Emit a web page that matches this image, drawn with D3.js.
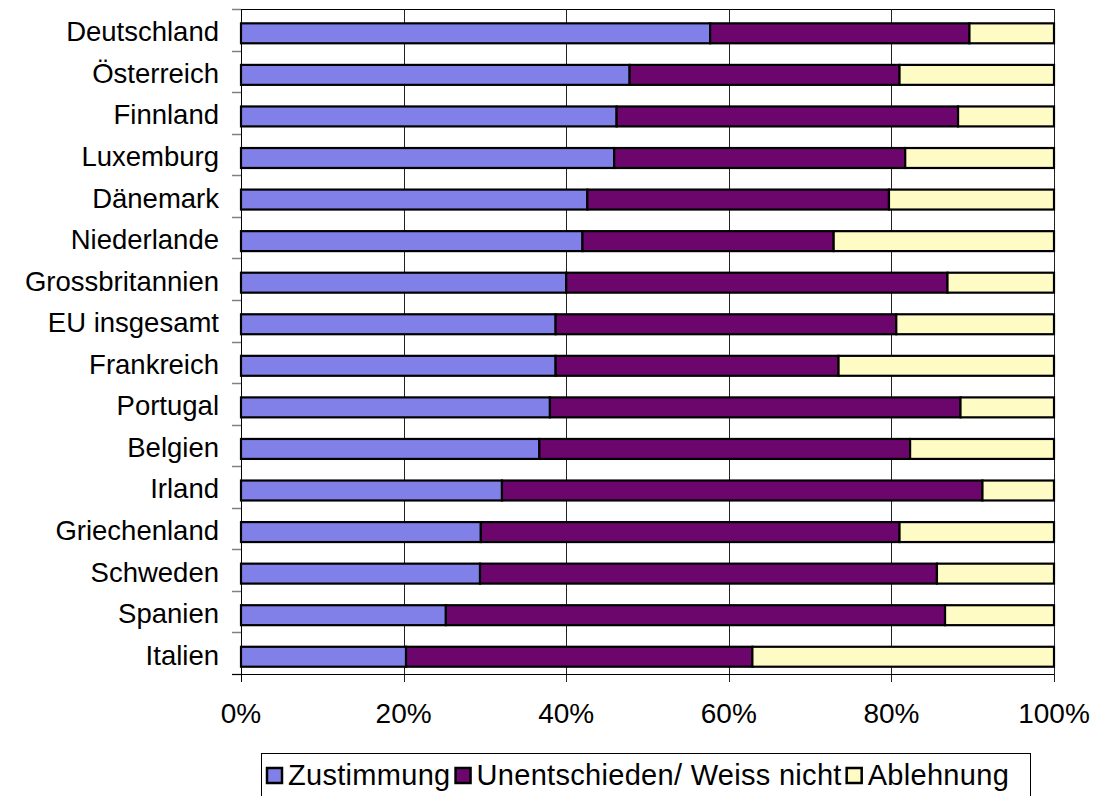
<!DOCTYPE html>
<html>
<head>
<meta charset="utf-8">
<script src="https://cdn.jsdelivr.net/npm/d3@7"></script>
<style>
  body { margin: 0; background: #fff; }
  svg { display: block; }
  text { font-family: "Liberation Sans", Arial, sans-serif; fill: #000; }
</style>
</head>
<body>
<div id="chart"></div>
<script>
"use strict";

// categories, top to bottom
const countries = ["Deutschland", "Österreich", "Finnland", "Luxemburg", "Dänemark",
    "Niederlande", "Grossbritannien", "EU insgesamt", "Frankreich", "Portugal",
    "Belgien", "Irland", "Griechenland", "Schweden", "Spanien", "Italien"];

// series names (legend order)
const seriesNames = ["Zustimmung", "Unentschieden/ Weiss nicht", "Ablehnung"];

// percent values
const zustimmung    = [57.7, 47.8, 46.2, 45.9, 42.6, 42.0, 40.0, 38.7, 38.7, 38.0, 36.7, 32.1, 29.5, 29.4, 25.2, 20.3];
const unentschieden = [31.9, 33.2, 42.0, 35.8, 37.1, 30.9, 46.9, 41.9, 34.8, 50.5, 45.6, 59.1, 51.5, 56.2, 61.4, 42.6];
const ablehnung     = [10.4, 19.0, 11.8, 18.3, 20.3, 27.1, 13.1, 19.4, 26.5, 11.5, 17.7,  8.8, 19.0, 14.4, 13.4, 37.1];

const xTicks = [0, 0.2, 0.4, 0.6, 0.8, 1];

const colors = ["#8080e8", "#6c066c", "#fffbc4"];

// build the rows for the stack
const rows = countries.map((c, i) => ({
    country: c,
    [seriesNames[0]]: zustimmung[i],
    [seriesNames[1]]: unentschieden[i],
    [seriesNames[2]]: ablehnung[i]
}));

const width = 1102, height = 796;
const margin = { top: 9, right: 48, bottom: 122, left: 241 };
const innerW = width - margin.left - margin.right;
const innerH = height - margin.top - margin.bottom;

const svg = d3.select("#chart").append("svg")
    .attr("width", width)
    .attr("height", height);

const g = svg.append("g")
    .attr("transform", "translate(" + margin.left + "," + margin.top + ")");

const x = d3.scaleLinear().domain([0, 1]).range([0, innerW]);
const y = d3.scaleBand().domain(countries).range([0, innerH]);

const stack = d3.stack()
    .keys(seriesNames)
    .offset(d3.stackOffsetExpand);
const layers = stack(rows);

// vertical grid lines (they run a little below the axis as ticks)
g.append("g")
    .selectAll("line")
    .data(xTicks)
    .join("line")
    .attr("x1", d => Math.round(x(d)) + 0.5)
    .attr("x2", d => Math.round(x(d)) + 0.5)
    .attr("y1", 0)
    .attr("y2", innerH + 8)
    .attr("stroke", "#222")
    .attr("stroke-width", 1);

// top border
g.append("line")
    .attr("x1", 0).attr("x2", innerW)
    .attr("y1", 0.5).attr("y2", 0.5)
    .attr("stroke", "#000");

// category ticks on the left
const edges = countries.map(c => y(c)).concat([innerH]);
g.append("g")
    .selectAll("line")
    .data(edges)
    .join("line")
    .attr("x1", -9).attr("x2", 0)
    .attr("y1", d => Math.round(d) + 0.5)
    .attr("y2", d => Math.round(d) + 0.5)
    .attr("stroke", "#808080")
    .attr("stroke-width", 1.5);

// bars
const barY = d => y(d.data.country) + y.bandwidth() * 0.345;
const barH = y.bandwidth() * 0.48;

g.append("g")
    .selectAll("g")
    .data(layers)
    .join("g")
    .attr("fill", (d, i) => colors[i])
    .selectAll("rect")
    .data(d => d)
    .join("rect")
    .attr("x", d => x(d[0]))
    .attr("y", barY)
    .attr("width", d => x(d[1]) - x(d[0]))
    .attr("height", barH)
    .attr("stroke", "#000")
    .attr("stroke-width", 2.2);

// axis lines
g.append("line")
    .attr("x1", 0.5).attr("x2", 0.5)
    .attr("y1", 0).attr("y2", innerH + 8)
    .attr("stroke", "#000");
g.append("line")
    .attr("x1", -9).attr("x2", innerW)
    .attr("y1", innerH + 0.5).attr("y2", innerH + 0.5)
    .attr("stroke", "#000");

// category labels
g.append("g")
    .selectAll("text")
    .data(countries)
    .join("text")
    .attr("x", -22)
    .attr("y", d => y(d) + y.bandwidth() / 2 + 11.5)
    .attr("text-anchor", "end")
    .style("font-size", "27.5px")
    .text(d => d);

// x tick labels
g.append("g")
    .selectAll("text")
    .data(xTicks)
    .join("text")
    .attr("x", d => x(d))
    .attr("y", innerH + 49)
    .attr("text-anchor", "middle")
    .style("font-size", "28px")
    .text(d => d3.format(".0%")(d));

// legend
const legend = svg.append("g");
legend.append("rect")
    .attr("x", 261.5).attr("y", 753.5)
    .attr("width", 769).attr("height", 60)
    .attr("fill", "#fff")
    .attr("stroke", "#000")
    .attr("stroke-width", 1);

let lx = 267;
seriesNames.forEach((name, i) => {
    legend.append("rect")
        .attr("x", lx).attr("y", 768)
        .attr("width", 15).attr("height", 15)
        .attr("fill", colors[i])
        .attr("stroke", "#000")
        .attr("stroke-width", 2.5);
    const t = legend.append("text")
        .attr("x", lx + 21)
        .attr("y", 785)
        .style("font-size", "29px")
        .style("letter-spacing", "0.3px")
        .text(name);
    lx += 21 + t.node().getComputedTextLength() + 5;
});
</script>
</body>
</html>
